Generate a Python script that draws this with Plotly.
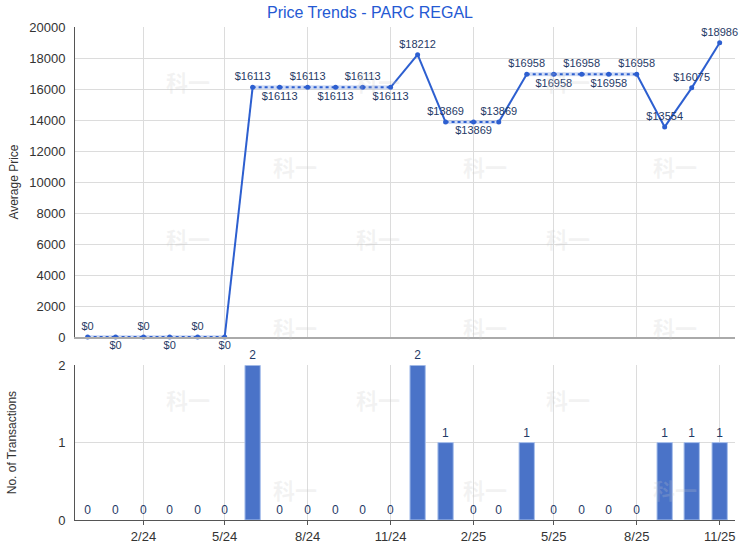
import plotly.graph_objects as go
from plotly.subplots import make_subplots

months = ["2023-12-01", "2024-01-01", "2024-02-01", "2024-03-01", "2024-04-01", "2024-05-01",
          "2024-06-01", "2024-07-01", "2024-08-01", "2024-09-01", "2024-10-01", "2024-11-01",
          "2024-12-01", "2025-01-01", "2025-02-01", "2025-03-01", "2025-04-01", "2025-05-01",
          "2025-06-01", "2025-07-01", "2025-08-01", "2025-09-01", "2025-10-01", "2025-11-01"]
avg_price = [0, 0, 0, 0, 0, 0,
             16113, 16113, 16113, 16113, 16113, 16113,
             18212, 13869, 13869, 13869, 16958, 16958,
             16958, 16958, 16958, 13554, 16075, 18986]
transactions = [0, 0, 0, 0, 0, 0,
                2, 0, 0, 0, 0, 0,
                2, 1, 0, 0, 1, 0,
                0, 0, 0, 1, 1, 1]
tick_vals = ["2024-02-01", "2024-05-01", "2024-08-01", "2024-11-01",
             "2025-02-01", "2025-05-01", "2025-08-01", "2025-11-01"]
tick_text = ["2/24", "5/24", "8/24", "11/24", "2/25", "5/25", "8/25", "11/25"]

LINE = "#2d5fd0"
TXT = "#1f3a66"

fig = make_subplots(rows=2, cols=1, shared_xaxes=True, vertical_spacing=0.057,
                    row_heights=[0.629, 0.314])

# split segments: solid when month has transactions, dotted when carried forward
solid_x, solid_y, dot_x, dot_y = [], [], [], []
for i in range(1, len(months)):
    seg_x = [months[i - 1], months[i], None]
    seg_y = [avg_price[i - 1], avg_price[i], None]
    if transactions[i] > 0:
        solid_x += seg_x
        solid_y += seg_y
    else:
        dot_x += seg_x
        dot_y += seg_y

fig.add_trace(go.Scatter(x=dot_x, y=dot_y, mode="lines", line=dict(color="rgba(45,95,208,0.22)", width=4),
                         hoverinfo="skip", showlegend=False), row=1, col=1)
fig.add_trace(go.Scatter(x=dot_x, y=dot_y, mode="lines", line=dict(color=LINE, width=2, dash="dot"),
                         hoverinfo="skip", showlegend=False), row=1, col=1)
fig.add_trace(go.Scatter(x=solid_x, y=solid_y, mode="lines", line=dict(color=LINE, width=2),
                         hoverinfo="skip", showlegend=False), row=1, col=1)

positions = []
for i, v in enumerate(avg_price):
    if i > 0 and v == avg_price[i - 1] and positions[-1] == "top center":
        positions.append("bottom center")
    else:
        positions.append("top center")

fig.add_trace(go.Scatter(x=months, y=avg_price, mode="markers+text",
                         marker=dict(color=LINE, size=5),
                         text=[f"${v}" for v in avg_price], textposition=positions,
                         textfont=dict(size=11, color=TXT, family="Liberation Sans, Arial"),
                         cliponaxis=False, showlegend=False), row=1, col=1)

fig.add_trace(go.Bar(x=months, y=transactions, width=17 * 24 * 3600 * 1000,
                     marker=dict(color="#4a73c8",
                                 line=dict(color="#a9c1ec", width=[1 if v > 0 else 0 for v in transactions])),
                     text=[str(v) for v in transactions], textposition="outside",
                     textfont=dict(size=12, color=TXT, family="Liberation Sans, Arial"),
                     cliponaxis=False, showlegend=False), row=2, col=1)

# faint watermarks
wm = []
for ry, cols in [(40, [100, 340, 580]), (135, [220, 460, 700]), (235, [100, 340, 580]),
                 (335, [220, 460, 700]), (435, [100, 340, 580]), (535, [220, 460, 700])]:
    for cx in cols:
        wm.append(dict(x=cx / 740, y=1 - ry / 550, xref="paper", yref="paper", text="<b>科一</b>",
                       showarrow=False, font=dict(size=22, color="rgba(200,200,200,0.22)",
                                                  family="Noto Sans CJK SC")))

xr = ["2023-11-17", "2025-11-18"]
grid = "#dcdcdc"
fig.update_xaxes(range=xr, tickvals=tick_vals, ticktext=tick_text, showgrid=True, gridcolor=grid,
                 gridwidth=1, tickfont=dict(size=13, color="#333"), automargin=False)
fig.update_xaxes(showline=True, linecolor="#aaaaaa", linewidth=2, showticklabels=False, row=1, col=1)
fig.update_xaxes(showline=True, linecolor="#555", linewidth=1, ticks="outside", ticklen=4,
                 tickcolor="#555", row=2, col=1)
fig.update_yaxes(range=[0, 20000], dtick=2000, tickformat="d", showgrid=True, gridcolor=grid,
                 zeroline=False, automargin=False, ticklabelstandoff=6,
                 showline=True, linecolor="#555", linewidth=1,
                 tickfont=dict(size=13, color="#333"),
                 title=dict(text="Average Price", font=dict(size=12, color="#333"), standoff=8),
                 row=1, col=1)
fig.update_yaxes(range=[0, 2], dtick=1, showgrid=True, gridcolor=grid, zeroline=False,
                 showline=True, linecolor="#555", linewidth=1, automargin=False, ticklabelstandoff=6,
                 tickfont=dict(size=13, color="#333"),
                 title=dict(text="No. of Transactions", font=dict(size=12, color="#333"), standoff=38),
                 row=2, col=1)

fig.update_layout(width=740, height=550, margin=dict(l=75, r=5, t=27, b=30, autoexpand=False),
                  plot_bgcolor="white", paper_bgcolor="white",
                  font=dict(family="Liberation Sans, Arial", color="#333"),
                  title=dict(text="Price Trends - PARC REGAL", x=0.5, xanchor="center", y=0.988,
                             yanchor="top", font=dict(size=16, color="#2459d3")),
                  bargap=0.4, annotations=wm)

fig.write_html("out.html", config={"displayModeBar": False},
               post_script="document.body.style.margin='0';document.body.style.overflow='hidden';")
